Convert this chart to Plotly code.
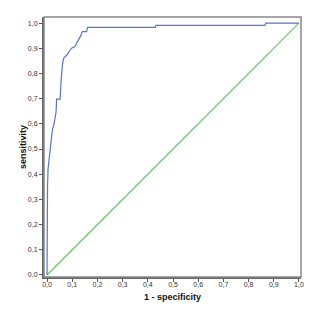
import plotly.graph_objects as go

# ROC curve (1 - specificity, sensitivity)
fpr = [0.0, 0.0, 0.002, 0.004, 0.008, 0.014, 0.021, 0.028, 0.036, 0.038, 0.052, 0.056,
       0.060, 0.062, 0.067, 0.078, 0.090, 0.097, 0.110, 0.118, 0.124, 0.135, 0.140,
       0.157, 0.161, 0.430, 0.432, 0.865, 0.868, 1.0]
tpr = [0.0, 0.20, 0.35, 0.42, 0.46, 0.52, 0.575, 0.60, 0.648, 0.698, 0.698, 0.774,
       0.820, 0.842, 0.862, 0.872, 0.890, 0.900, 0.906, 0.920, 0.935, 0.952, 0.966,
       0.966, 0.983, 0.983, 0.991, 0.991, 1.0, 1.0]
ref_x = [0.0, 1.0]
ref_y = [0.0, 1.0]
tick_vals = [0.0, 0.1, 0.2, 0.3, 0.4, 0.5, 0.6, 0.7, 0.8, 0.9, 1.0]

fig = go.Figure()
fig.add_trace(go.Scatter(x=ref_x, y=ref_y, mode="lines",
                         line=dict(color="#5ccb5c", width=1.2), showlegend=False))
fig.add_trace(go.Scatter(x=fpr, y=tpr, mode="lines",
                         line=dict(color="#5673cf", width=1.2), showlegend=False))

axis_common = dict(
    tickmode="array", tickvals=tick_vals, tickformat=".1f",
    ticks="outside", ticklen=3, tickwidth=1, tickcolor="#555",
    showgrid=False, zeroline=False,
    showline=True, linecolor="#666", linewidth=2,
    tickfont=dict(family="Liberation Sans, Arial", size=7, color="#333"),
)

fig.update_xaxes(range=[-0.012, 1.008], **axis_common, ticklabelstandoff=-3,
                 title=dict(text="<b>1 - specificity</b>", standoff=6,
                            font=dict(family="Liberation Sans, Arial", size=9, color="#111")))
fig.update_yaxes(range=[-0.008, 1.024], **axis_common,
                 title=dict(text="<b>sensitivity</b>", standoff=0,
                            font=dict(family="Liberation Sans, Arial", size=9, color="#111")))

fig.add_shape(type="rect", xref="paper", yref="paper", x0=0, y0=0, x1=1, y1=1,
              line=dict(color="#888", width=1.5))

fig.update_layout(
    width=329, height=323,
    margin=dict(l=44, r=28, t=17, b=46),
    paper_bgcolor="white", plot_bgcolor="white",
    separators=",.",
)

fig.write_html("out.html")
